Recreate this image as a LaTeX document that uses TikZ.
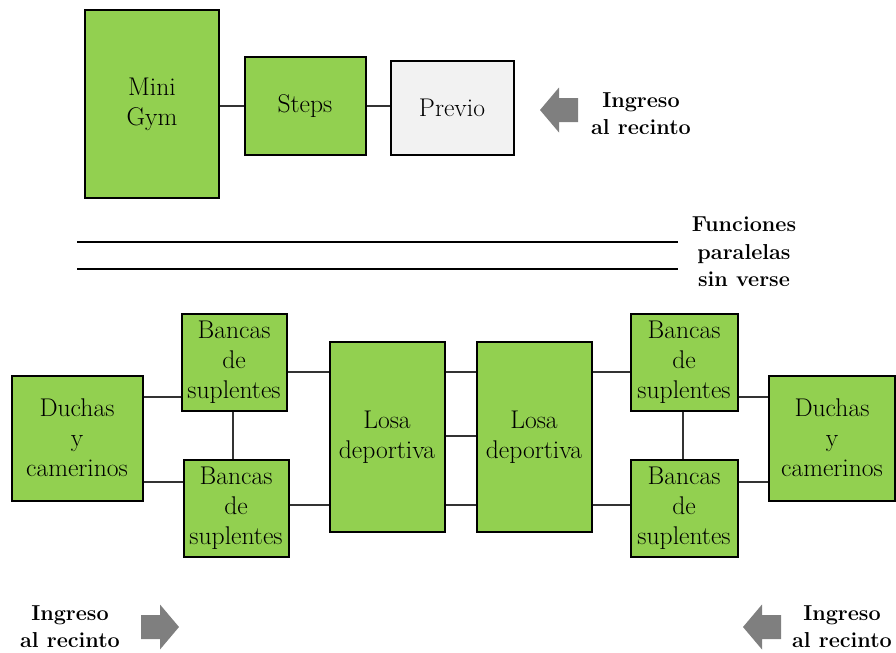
\documentclass[tikz,border=0pt]{standalone}
\usepackage{fontspec}
\definecolor{boxgreen}{HTML}{92D050}
\definecolor{boxgray}{HTML}{F2F2F2}
\definecolor{arrowgray}{HTML}{7F7F7F}
\newcommand{\px}{0.75pt}

\begin{document}
\begin{tikzpicture}[
    x=0.75pt, y=-0.75pt,
    box/.style={draw, line width=1.5pt, fill=boxgreen, align=center, inner sep=0.5pt,
      font=\fontsize{19.2}{22.5}\selectfont},
    link/.style={line width=0.8pt, draw=black!80},
    entry/.style={align=center, font=\fontsize{16.2}{20.25}\selectfont\bfseries},
    flecha/.pic={\fill[arrowgray] (-19,0) -- (0,-22.5) -- (0,-12) -- (19,-12)
      -- (19,12) -- (0,12) -- (0,22.5) -- cycle;}
  ]
    \useasboundingbox (0,0) rectangle (896,653);

    % upper area
    \node[box, minimum width=134*\px, minimum height=188*\px] (minigym) at (152,104) {Mini\\Gym};
    \node[box, minimum width=121*\px, minimum height=98*\px] (steps) at (305,106) {Steps};
    \node[box, fill=boxgray, minimum width=123*\px, minimum height=94*\px] (previo) at (452,108) {Previo};
    \pic (flechaA) at (559,110) {flecha};
    \node[entry] (ingresoA) at (641,114) {Ingreso\\al recinto};

    \draw[link] (minigym.east |- 0,106) -- (steps.west |- 0,106);
    \draw[link] (steps.east |- 0,106) -- (previo.west |- 0,106);

    % separation
    \coordinate (sepA) at (77,242);
    \coordinate (sepB) at (678,242);
    \coordinate (sepC) at (77,269);
    \coordinate (sepD) at (678,269);
    \draw[line width=0.8pt] (sepA) -- (sepB);
    \draw[line width=0.8pt] (sepC) -- (sepD);
    \node[entry, font=\fontsize{16.2}{20.6}\selectfont\bfseries] (paralelas) at (744,252) {Funciones\\paralelas\\sin verse};

    % lower area
    \node[box, minimum width=131*\px, minimum height=125*\px] (duchasI) at (77,438) {Duchas\\y\\camerinos};
    \node[box, minimum width=105*\px, minimum height=97*\px] (bancasIA) at (234,362) {Bancas\\de\\suplentes};
    \node[box, minimum width=105*\px, minimum height=97*\px] (bancasIB) at (236,508) {Bancas\\de\\suplentes};
    \node[box, minimum width=115*\px, minimum height=190*\px] (losaI) at (387,437) {Losa\\deportiva};
    \node[box, minimum width=115*\px, minimum height=190*\px] (losaD) at (534,437) {Losa\\deportiva};
    \node[box, minimum width=107*\px, minimum height=97*\px] (bancasDA) at (684,362) {Bancas\\de\\suplentes};
    \node[box, minimum width=107*\px, minimum height=97*\px] (bancasDB) at (684,508) {Bancas\\de\\suplentes};
    \node[box, minimum width=126*\px, minimum height=125*\px] (duchasD) at (832,438) {Duchas\\y\\camerinos};

    \draw[link] (duchasI.east |- 0,397) -- (bancasIA.west |- 0,397);
    \draw[link] (duchasI.east |- 0,482) -- (bancasIB.west |- 0,482);
    \draw[link] (bancasIA.south -| 233,0) -- (bancasIB.north -| 233,0);
    \draw[link] (bancasIA.east |- 0,372) -- (losaI.west |- 0,372);
    \draw[link] (bancasIB.east |- 0,505) -- (losaI.west |- 0,505);
    \draw[link] (losaI.east |- 0,372) -- (losaD.west |- 0,372);
    \draw[link] (losaI.east |- 0,436) -- (losaD.west |- 0,436);
    \draw[link] (losaI.east |- 0,505) -- (losaD.west |- 0,505);
    \draw[link] (losaD.east |- 0,372) -- (bancasDA.west |- 0,372);
    \draw[link] (losaD.east |- 0,505) -- (bancasDB.west |- 0,505);
    \draw[link] (bancasDA.south -| 683,0) -- (bancasDB.north -| 683,0);
    \draw[link] (bancasDA.east |- 0,397) -- (duchasD.west |- 0,397);
    \draw[link] (bancasDB.east |- 0,482) -- (duchasD.west |- 0,482);

    % entries below
    \node[entry] (ingresoB) at (70,627) {Ingreso\\al recinto};
    \pic[xscale=-1] (flechaB) at (160,627) {flecha};
    \pic (flechaC) at (762,627) {flecha};
    \node[entry] (ingresoC) at (842,627) {Ingreso\\al recinto};
\end{tikzpicture}
\end{document}
